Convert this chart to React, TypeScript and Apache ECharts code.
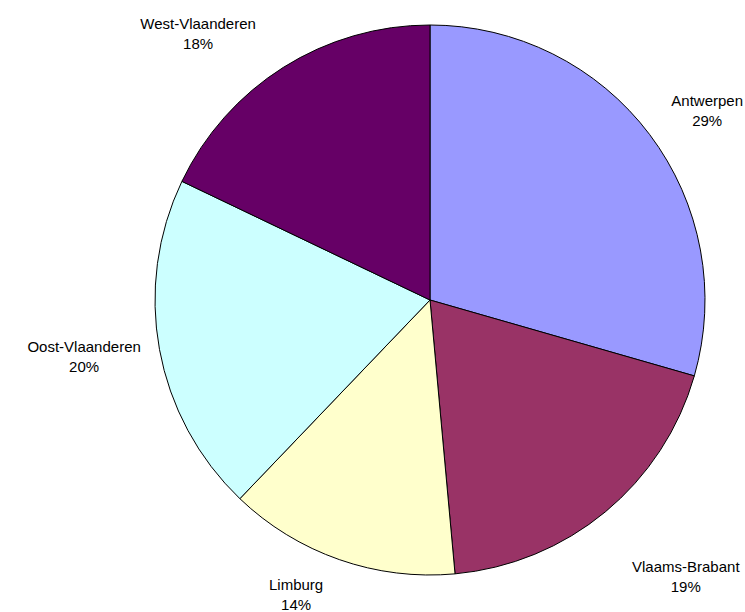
import React, { useEffect, useRef } from 'react';
import * as echarts from 'echarts';

const categories = ['Antwerpen', 'Vlaams-Brabant', 'Limburg', 'Oost-Vlaanderen', 'West-Vlaanderen'];
const values = [29.45, 19.1, 13.6, 19.95, 17.9];
const colors = ['#9999FF', '#993366', '#FFFFCC', '#CCFFFF', '#660066'];
// small layout tweaks for label placement (not data)
const labelNudge = [
  [0, 0],
  [8, 34],
  [0, -3],
  [4, 0],
  [-12, 0],
];

export default function App() {
  const ref = useRef<HTMLDivElement>(null);
  useEffect(() => {
    document.body.style.margin = '0';
    const chart = echarts.init(ref.current!, null, { renderer: 'svg' });
    const CX = 430, CY = 300, R = 275, W = 745;
    const total = values.reduce((a, b) => a + b, 0);
    const mids: number[] = [];
    let acc = 0;
    values.forEach((v) => {
      mids.push(((acc + v / 2) / total) * Math.PI * 2);
      acc += v;
    });
    const L = 40, L2 = 30, CLEAR = R + 20;
    chart.setOption({
      animation: false,
      series: [
        {
          type: 'pie',
          center: [CX, CY],
          radius: R,
          startAngle: 90,
          clockwise: true,
          avoidLabelOverlap: false,
          data: categories.map((name, i) => ({ name, value: values[i], itemStyle: { color: colors[i] } })),
          itemStyle: { borderColor: '#000', borderWidth: 1 },
          label: {
            show: true,
            position: 'outside',
            formatter: (p: any) => `${p.name}\n${Math.round(p.percent)}%`,
            fontSize: 15,
            lineHeight: 20,
            color: '#000',
            fontFamily: 'Liberation Sans, Arial, sans-serif',
          },
          labelLine: { show: false },
          emphasis: { disabled: true },
          labelLayout: (params: any) => {
            const i = params.dataIndex;
            const a = mids[i];
            const dx = Math.sin(a), dy = -Math.cos(a);
            const w = params.labelRect.width, h = params.labelRect.height;
            const sx = dx < 0 ? -1 : 1;
            let x = CX + (R + L) * dx + sx * L2;
            let y = CY + (R + L) * dy;
            const dist = (cx: number, cy: number) => {
              const nx = Math.max(cx - w / 2, Math.min(CX, cx + w / 2));
              const ny = Math.max(cy - h / 2, Math.min(CY, cy + h / 2));
              return Math.hypot(nx - CX, ny - CY);
            };
            let guard = 0;
            while (dist(x, y) < CLEAR && guard < 300) {
              x += sx;
              guard++;
            }
            x += labelNudge[i][0];
            y += labelNudge[i][1];
            x = Math.min(W - w / 2 - 2, Math.max(w / 2 + 2, x));
            return { x, y, align: 'center', verticalAlign: 'middle' };
          },
        },
      ],
    });
    return () => chart.dispose();
  }, []);
  return <div ref={ref} style={{ width: 745, height: 612 }} />;
}
